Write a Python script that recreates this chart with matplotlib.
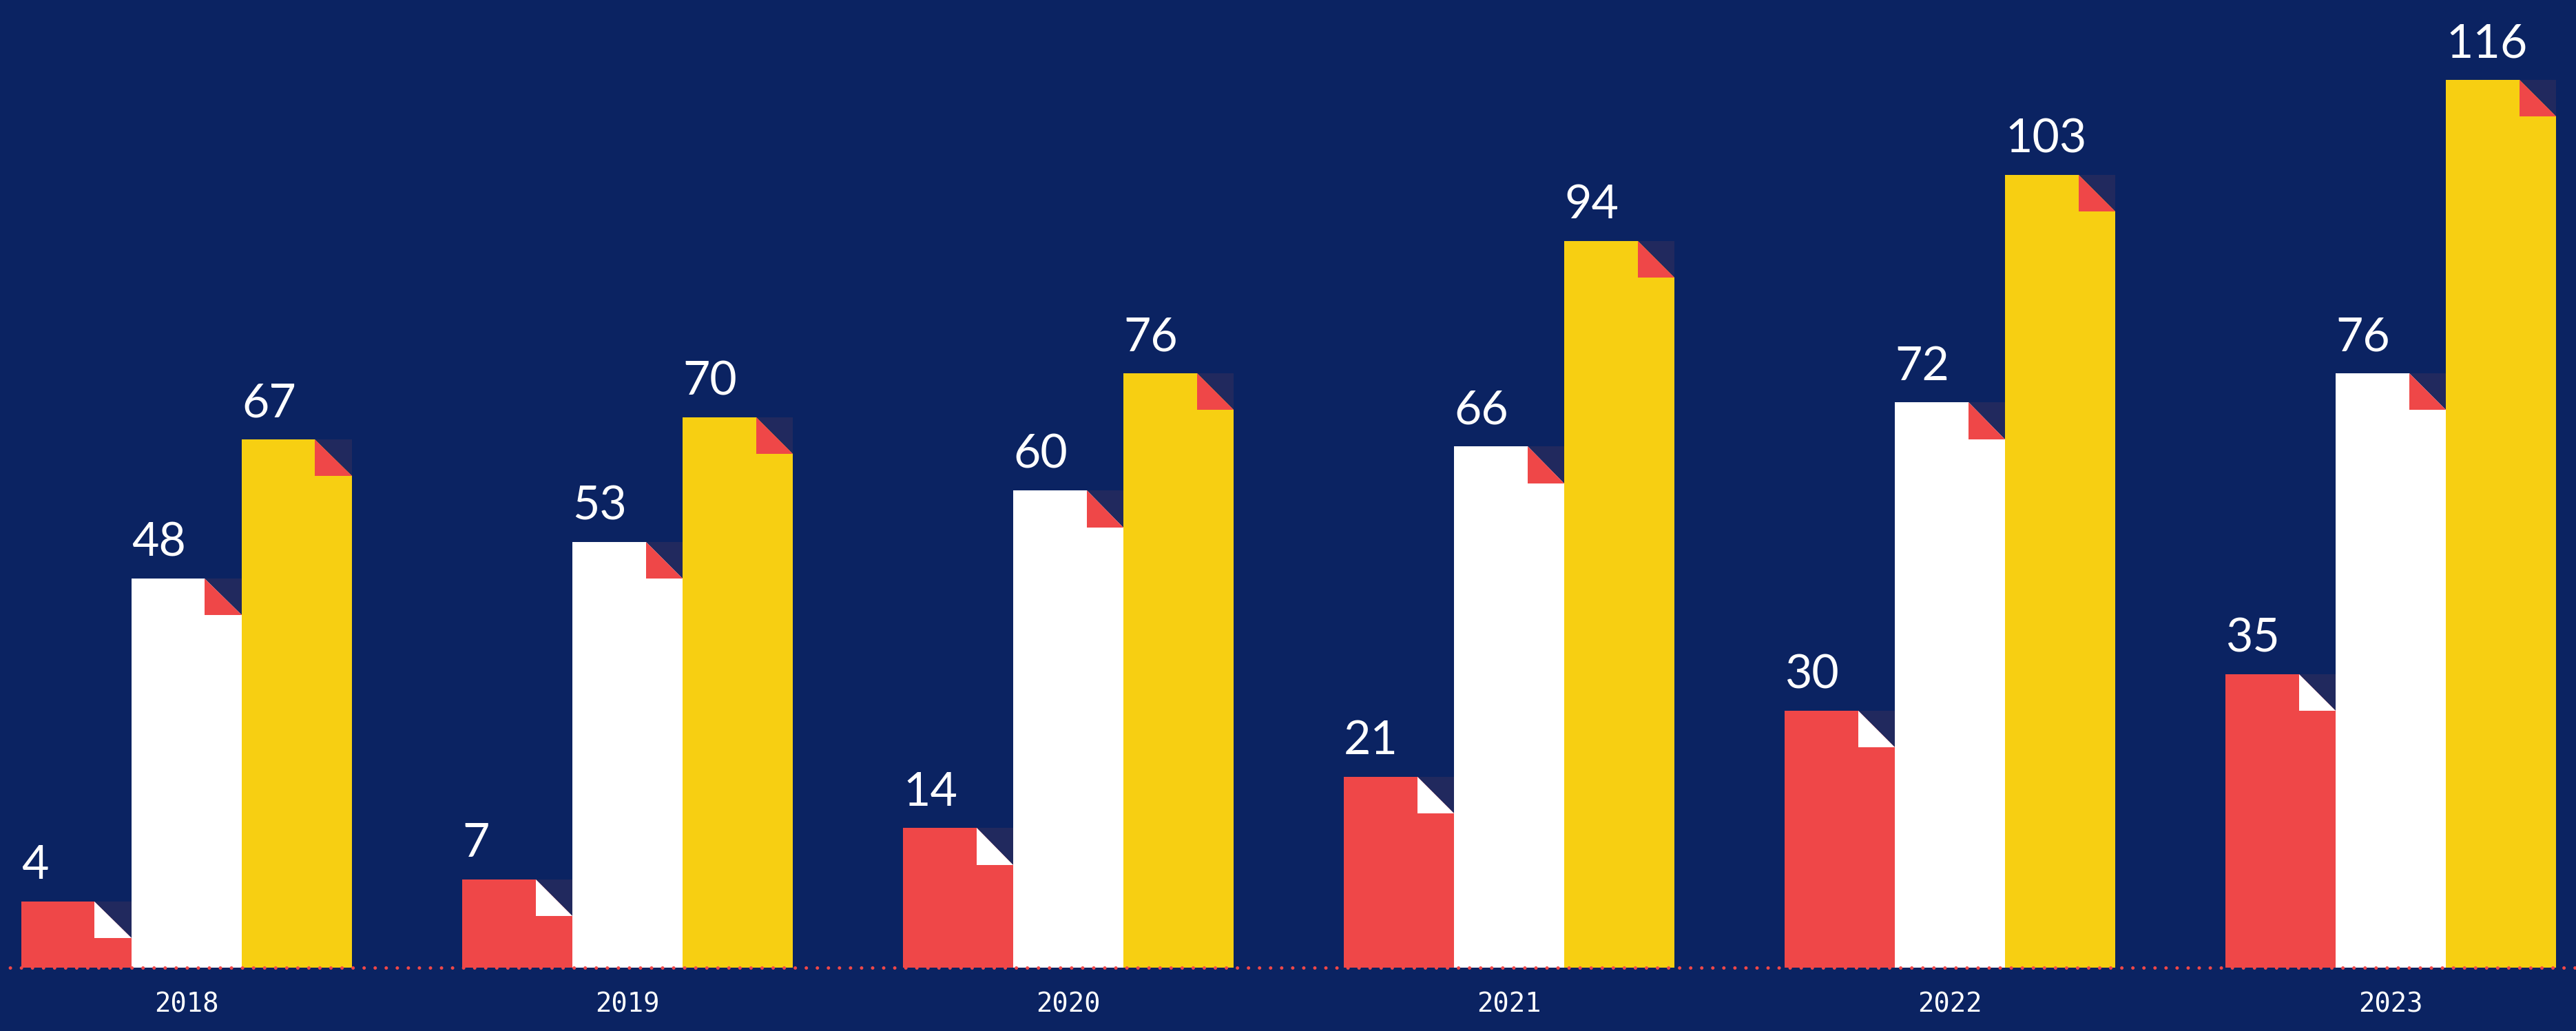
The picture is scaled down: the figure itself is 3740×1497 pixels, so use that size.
import numpy as np
import matplotlib
matplotlib.use("Agg")
import matplotlib.pyplot as plt
from matplotlib.patches import Polygon

years = ["2018", "2019", "2020", "2021", "2022", "2023"]
red_vals = [4, 7, 14, 21, 30, 35]
white_vals = [48, 53, 60, 66, 72, 76]
yellow_vals = [67, 70, 76, 94, 103, 116]

bg = "#0b2362"
red = "#ef4748"
white = "#ffffff"
yellow = "#f7cf12"
corner = "#21295e"

series = [
    (red_vals, red, white),       # (values, bar colour, fold colour)
    (white_vals, white, red),
    (yellow_vals, yellow, red),
]

pad = 5.0        # bars start a bit below zero (the fold height)
bar_w = 0.25
fold_w = 0.0836

fig = plt.figure(figsize=(37.4, 14.975), dpi=100, facecolor=bg)
ax = fig.add_axes([0, 0, 1, 1])
ax.set_facecolor(bg)

x = np.arange(len(years))
for i, (vals, col, fold_col) in enumerate(series):
    xs = x + (i - 1) * bar_w
    vals = np.array(vals, dtype=float)
    ax.bar(xs, vals + pad, bottom=-pad, width=bar_w, color=col, linewidth=0, zorder=2)
    for xc, v in zip(xs, vals):
        xr = xc + bar_w / 2
        xl = xc - bar_w / 2
        # dark corner triangle (upper right)
        ax.add_patch(Polygon([(xr - fold_w, v), (xr, v), (xr, v - pad)],
                             closed=True, facecolor=corner, edgecolor="none", zorder=3))
        # folded part (lower left)
        ax.add_patch(Polygon([(xr - fold_w, v), (xr - fold_w, v - pad), (xr, v - pad)],
                             closed=True, facecolor=fold_col, edgecolor="none", zorder=3))
        ax.text(xl, v + 3.1, str(int(v)), ha="left", va="baseline", color="white",
                fontsize=49, family="Lato", fontweight="normal", zorder=4)

# dotted baseline
ax.axhline(-pad, color=red, linewidth=3.6, linestyle=(0.3, (0.01, 3.2)),
           dash_capstyle="round", zorder=5)

for xc, yr in zip(x, years):
    ax.text(xc, -pad - 5.0, yr, ha="center", va="center", color="white",
            fontsize=28, family="DejaVu Sans Mono")

ax.set_xlim(-0.4234, 5.420)
ax.set_ylim(-13.66, 126.9)
ax.axis("off")

fig.savefig("out.png", dpi=100, facecolor=bg)
